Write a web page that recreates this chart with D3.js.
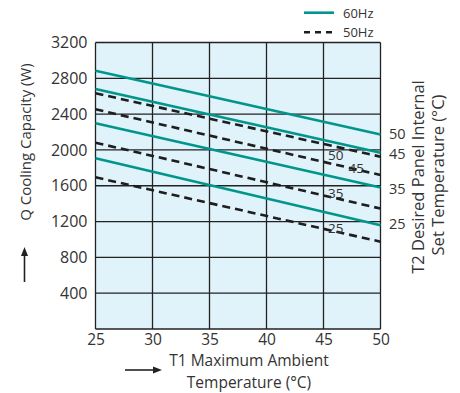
<!DOCTYPE html>
<html><head><meta charset="utf-8">
<script src="https://cdn.jsdelivr.net/npm/d3@7"></script>
<style>body{margin:0;background:#fff}svg{display:block}text{font-family:"Open Sans","DejaVu Sans",sans-serif;fill:#333}</style>
</head><body><svg id="c" width="460" height="393"></svg>
<script>
const xTicks = [25, 30, 35, 40, 45, 50];
const yTicks = [400, 800, 1200, 1600, 2000, 2400, 2800, 3200];
const setTemps = ["50", "45", "35", "25"];
const xEnds = [25, 50];
const hz60 = [[2885, 2172], [2681, 1969], [2297, 1580], [1906, 1158]];
const hz50 = [[2633, 1925], [2454, 1720], [2081, 1345], [1694, 975]];
const innerLabelAt = [[45.4, 1940], [47.2, 1800], [45.4, 1520], [45.4, 1130]];
const rightLabelAt = [2180, 1960, 1560, 1170];

const svg = d3.select("#c");
const x = d3.scaleLinear().domain([25, 50]).range([95.5, 380.5]);
const y = d3.scaleLinear().domain([0, 3200]).range([329, 42.5]);
const FONT = '"Open Sans","DejaVu Sans",sans-serif';

svg.append("rect").attr("x", x(25)).attr("y", y(3200)).attr("width", x(50) - x(25)).attr("height", y(0) - y(3200)).attr("fill", "#e0f2fa");

const g = svg.append("g");
g.selectAll(".vg").data(xTicks).join("line").attr("x1", d => x(d)).attr("x2", d => x(d)).attr("y1", y(0)).attr("y2", y(3200)).attr("stroke", "#222").attr("stroke-width", 1.3);
g.selectAll(".hg").data([0].concat(yTicks)).join("line").attr("y1", d => y(d)).attr("y2", d => y(d)).attr("x1", x(25)).attr("x2", x(50)).attr("stroke", "#222").attr("stroke-width", 1.3);

const line = d3.line().x((d, i) => x(xEnds[i])).y(d => y(d));
svg.selectAll(".d50").data(hz50).join("path").attr("d", line).attr("fill", "none").attr("stroke", "#1e1e1e").attr("stroke-width", 2.6).attr("stroke-dasharray", "8,5");
svg.selectAll(".d60").data(hz60).join("path").attr("d", line).attr("fill", "none").attr("stroke", "#00968c").attr("stroke-width", 2.6);

svg.selectAll(".il").data(innerLabelAt).join("text").attr("x", d => x(d[0])).attr("y", d => y(d[1])).attr("dy", "0.35em").attr("font-size", 13.5).text((d, i) => setTemps[i]);
svg.selectAll(".rl").data(rightLabelAt).join("text").attr("x", 389).attr("y", d => y(d)).attr("dy", "0.35em").attr("font-size", 14.5).text((d, i) => setTemps[i]);

// axes
const xa = svg.append("g").attr("transform", `translate(0,${y(0)})`).call(d3.axisBottom(x).tickValues(xTicks).tickFormat(d3.format("d")).tickSize(0).tickPadding(5));
xa.select(".domain").remove();
xa.selectAll("text").attr("font-size", 15.5).attr("fill", "#333").style("font-family", FONT).attr("dy", "0.71em");
const ya = svg.append("g").attr("transform", `translate(${x(25)},0)`).call(d3.axisLeft(y).tickValues(yTicks).tickFormat(d3.format("d")).tickSize(0).tickPadding(8));
ya.select(".domain").remove();
ya.selectAll("text").attr("font-size", 16).attr("fill", "#333").style("font-family", FONT);

// titles
svg.append("text").attr("x", 249).attr("y", 361).attr("dy", "0.35em").attr("text-anchor", "middle").attr("font-size", 15.5).text("T1 Maximum Ambient");
svg.append("text").attr("x", 249).attr("y", 382.5).attr("dy", "0.35em").attr("text-anchor", "middle").attr("font-size", 15.5).text("Temperature (°C)");
svg.append("text").attr("transform", "translate(26,142) rotate(-90)").attr("dy", "0.35em").attr("text-anchor", "middle").attr("font-size", 15).text("Q Cooling Capacity (W)");
svg.append("text").attr("transform", "translate(418,177) rotate(-90)").attr("dy", "0.35em").attr("text-anchor", "middle").attr("font-size", 16.5).text("T2 Desired Panel Internal");
svg.append("text").attr("transform", "translate(438,175) rotate(-90)").attr("dy", "0.35em").attr("text-anchor", "middle").attr("font-size", 16.5).text("Set Temperature (°C)");

// arrows
svg.append("line").attr("x1", 125).attr("x2", 156).attr("y1", 370).attr("y2", 370).attr("stroke", "#222").attr("stroke-width", 1.6);
svg.append("path").attr("d", "M162,370 L153,366.5 L153,373.5 Z").attr("fill", "#222");
svg.append("line").attr("x1", 24.5).attr("x2", 24.5).attr("y1", 282).attr("y2", 253).attr("stroke", "#222").attr("stroke-width", 1.6);
svg.append("path").attr("d", "M24.5,247 L21,256 L28,256 Z").attr("fill", "#222");

// legend
svg.append("line").attr("x1", 304).attr("x2", 334).attr("y1", 12.7).attr("y2", 12.7).attr("stroke", "#00968c").attr("stroke-width", 2.6);
svg.append("line").attr("x1", 304).attr("x2", 334).attr("y1", 32.3).attr("y2", 32.3).attr("stroke", "#1e1e1e").attr("stroke-width", 2.6).attr("stroke-dasharray", "6,5");
svg.append("text").attr("x", 343).attr("y", 13).attr("dy", "0.35em").attr("font-size", 13).text("60Hz");
svg.append("text").attr("x", 343).attr("y", 32).attr("dy", "0.35em").attr("font-size", 13).text("50Hz");
</script></body></html>
